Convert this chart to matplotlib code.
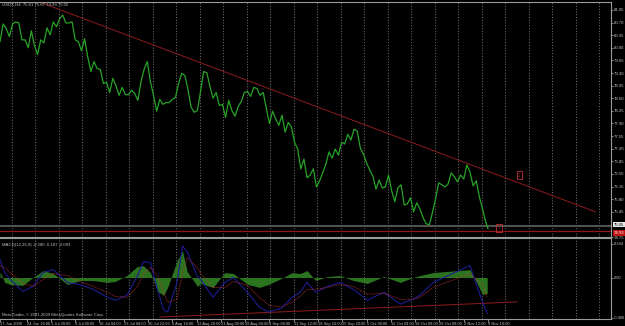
import matplotlib
matplotlib.use("Agg")
import matplotlib.pyplot as plt

plt.rcParams["font.family"] = ["Liberation Sans", "DejaVu Sans"]

# ---------------- data ----------------
# H4 bar index (every 4th bar) and price
price_bar = list(range(0, 624, 4)) + [623]
price_val = [80.17, 80.66, 80.53, 80.31, 80.66, 80.72, 80.69, 80.22, 80.22, 80.00,
             80.47, 80.06, 79.81, 80.22, 80.14, 80.55, 80.36, 80.72, 80.58, 80.80,
             80.91, 80.69, 80.69, 80.72, 80.22, 80.17, 79.92, 80.25, 79.75, 79.34,
             79.62, 79.42, 79.40, 79.01, 79.04, 78.76, 79.15, 78.95, 78.68, 78.90,
             78.70, 78.70, 78.82, 78.73, 78.54, 79.06, 79.40, 79.62, 79.06, 78.68,
             78.24, 78.57, 78.43, 78.48, 78.48, 78.57, 78.62, 79.01, 79.29, 79.23,
             78.84, 78.35, 78.21, 78.26, 78.79, 79.34, 79.31, 78.93, 78.60, 78.76,
             78.40, 78.43, 78.07, 78.54, 78.26, 78.10, 78.37, 78.51, 78.76, 78.79,
             78.65, 78.90, 78.87, 78.68, 78.76, 78.32, 77.90, 78.24, 78.02, 77.85,
             78.13, 77.66, 77.93, 77.80, 77.38, 77.19, 76.64, 76.91, 76.39, 76.47,
             76.64, 76.14, 76.31, 76.53, 76.77, 77.11, 76.94, 77.19, 77.02, 77.38,
             77.33, 77.60, 77.44, 77.74, 77.69, 77.22, 77.05, 76.80, 76.61, 76.44,
             76.08, 76.33, 76.11, 76.14, 76.47, 76.03, 75.73, 76.11, 76.20, 75.64,
             75.67, 75.84, 75.45, 75.70, 75.53, 75.29, 75.12, 75.09, 75.42, 75.81,
             76.25, 76.20, 76.14, 76.22, 76.53, 76.42, 76.28, 76.47, 76.36, 76.75,
             76.55, 76.17, 76.31, 75.86, 75.53, 75.17,
             74.98]

macd_bar = [0, 6, 13, 29, 42, 55, 68, 86, 102, 119, 137, 147, 162, 175, 183, 192, 201, 209, 214,
            226, 233, 239, 252, 256, 272, 287, 298, 316, 331, 343, 359, 373, 383, 392, 403, 418,
            434, 451, 469, 490, 511, 527, 536, 553, 600, 616, 622]
macd_val = [0.18, 0.05, -0.02, -0.14, -0.09, 0.05, 0.08, -0.05, -0.07, -0.12, -0.20, -0.23,
            -0.18, 0.01, 0.16, 0.15, -0.12, -0.33, -0.35, -0.05, 0.32, 0.26, 0.01, -0.02, -0.20,
            -0.05, 0.00, -0.15, -0.30, -0.35, -0.31, -0.20, -0.15, -0.05, -0.15, -0.09, -0.05,
            -0.12, -0.23, -0.15, -0.27, -0.22, -0.18, -0.05, 0.12, -0.25, -0.36]
signal_val = [0.12, 0.10, 0.05, -0.06, -0.09, -0.02, 0.04, 0.02, -0.04, -0.09, -0.15, -0.19,
              -0.20, -0.10, 0.04, 0.10, 0.02, -0.15, -0.25, -0.22, 0.05, 0.20, 0.10, 0.04, -0.10,
              -0.10, -0.04, -0.08, -0.20, -0.28, -0.30, -0.25, -0.19, -0.12, -0.12, -0.10, -0.07,
              -0.09, -0.17, -0.16, -0.22, -0.22, -0.20, -0.10, 0.04, -0.08, -0.20]
hist_val = [0.06, -0.05, -0.07, -0.08, 0.00, 0.07, 0.04, -0.07, -0.03, -0.03, -0.05, -0.04,
            0.02, 0.11, 0.12, 0.05, -0.14, -0.18, -0.10, 0.17, 0.27, 0.06, -0.09, -0.06, -0.10,
            0.05, 0.04, -0.07, -0.10, -0.07, -0.01, 0.05, 0.04, 0.07, -0.03, 0.01, 0.02, -0.03,
            -0.06, 0.01, -0.05, 0.00, 0.02, 0.05, 0.08, -0.17, -0.16]

trend_top = ([54, 760], [81.24, 75.45])
trend_macd = ([204, 660], [-0.40, -0.247])
bid_price = 75.05
hline_price = 74.93
box_points = ([663, 637], [76.47, 75.01])
box_texts = ["2", "1"]

price_ticks = [81.05, 80.70, 80.35, 80.00, 79.65, 79.30, 78.95, 78.60, 78.25, 77.90, 77.55,
               77.20, 76.85, 76.50, 76.15, 75.80, 75.45, 74.75]
macd_ticks = [0.344, 0.00, -0.406]
macd_tick_labels = ["0.344", "0.00", "-0.406"]

time_bars = [0, 34, 65, 96, 127, 158, 189, 220, 251, 282, 313, 344, 375, 406, 437, 468, 499,
             530, 561, 592, 623]
time_labels = ["17 Jun 2009", "24 Jun 16:00", "1 Jul 20:00", "9 Jul 00:00", "16 Jul 04:00",
               "23 Jul 08:00", "30 Jul 12:00", "6 Aug 16:00", "13 Aug 20:00", "21 Aug 00:00",
               "28 Aug 04:00", "4 Sep 08:00", "11 Sep 12:00", "18 Sep 16:00", "25 Sep 20:00",
               "5 Oct 00:00", "12 Oct 04:00", "19 Oct 08:00", "26 Oct 08:00", "2 Nov 12:00",
               "9 Nov 16:00"]
grid_bars = [15 + 30 * k for k in range(26)]

title_text = "USDX,H4  75.61 75.67 74.99 75.05"
macd_text = "MACD(12,26,9) -0.280 -0.187 -0.093"
copyright_text = "MetaTrader, \u00a9 2001-2009 MetaQuotes Software Corp."

# ---------------- style ----------------
BG = "black"
FG = "#c0c0c0"
GRID = "#9a9a9a"
GREEN = "#27a327"
DARKRED = "#8c1c1c"
BLUE = "#1c1c90"
RED = "#c03030"
HIST = "#2c7320"
FS = 3.1

W, H = 625, 326
fig = plt.figure(figsize=(W / 100, H / 100), dpi=100, facecolor=BG)
ax = fig.add_axes([0, (H - 237) / H, 611 / W, 235 / H], facecolor=BG)
ax2 = fig.add_axes([0, (H - 319) / H, 611 / W, 81 / H], facecolor=BG)

XMAX = 780
for a in (ax, ax2):
    a.set_xlim(0, XMAX)
    for s in a.spines.values():
        s.set_color(GRID)
        s.set_linewidth(0.8)
    a.spines["left"].set_visible(False)
    for g in grid_bars:
        a.axvline(g, color=GRID, lw=0.5, ls=(0, (1.5, 2.5)), zorder=0)

# main panel
YLO, YHI = 74.79, 81.27
ax.set_ylim(YLO, YHI)
ax.plot(price_bar, price_val, color=GREEN, lw=0.9, zorder=3)
ax.plot(trend_top[0], trend_top[1], color=DARKRED, lw=0.7, zorder=2)
ax.axhline(bid_price, color="#5a5a5a", lw=1.3, zorder=1)
ax.axhline(hline_price, color=DARKRED, lw=0.9, zorder=1)
for bx, by, bt in zip(box_points[0], box_points[1], box_texts):
    ax.text(bx, by, bt, color=DARKRED, fontsize=3.5, ha="center", va="center",
            bbox=dict(boxstyle="square,pad=0.3", fc="none", ec=RED, lw=0.6), zorder=4)
ax.yaxis.tick_right()
ax.set_yticks(price_ticks)
ax.set_yticklabels([f"{t:.2f}" for t in price_ticks])
ax.tick_params(axis="y", colors=FG, labelsize=FS, length=1.5, width=0.5, pad=0.4)
ax.set_xticks([])
ax.text(2, 81.20, title_text, color=FG, fontsize=FS, va="center", ha="left")

# price labels on the axis
ax.text(1.005, (bid_price - YLO) / (YHI - YLO) + 0.012, f"{bid_price:.2f}",
        transform=ax.transAxes, color="black", fontsize=FS, va="center", ha="left",
        bbox=dict(boxstyle="square,pad=0.15", fc="#e8e8e8", ec="none"), clip_on=False)
ax.text(1.005, (hline_price - YLO) / (YHI - YLO) - 0.004, f"{hline_price:.2f}",
        transform=ax.transAxes, color="white", fontsize=FS, va="center", ha="left",
        bbox=dict(boxstyle="square,pad=0.15", fc="#c01010", ec="none"), clip_on=False)

# MACD panel
ax2.set_ylim(-0.42, 0.40)
ax2.fill_between(macd_bar, 0, hist_val, color=HIST, lw=0, zorder=2)
ax2.plot(macd_bar, macd_val, color=BLUE, lw=0.8, zorder=3)
ax2.plot(macd_bar, signal_val, color=RED, lw=0.6, ls=(0, (1, 1)), zorder=3)
ax2.plot(trend_macd[0], trend_macd[1], color=DARKRED, lw=0.7, zorder=2)
ax2.yaxis.tick_right()
ax2.set_yticks(macd_ticks)
ax2.set_yticklabels(macd_tick_labels)
ax2.tick_params(axis="y", colors=FG, labelsize=2.9, length=1.5, width=0.5, pad=0.3)
ax2.set_xticks(time_bars)
ax2.set_xticklabels(time_labels, ha="left")
ax2.tick_params(axis="x", colors=FG, labelsize=2.9, length=2, width=0.5, pad=0.3)
ax2.text(2, 0.33, macd_text, color=FG, fontsize=FS, va="center", ha="left")
ax2.text(2, -0.38, copyright_text, color=FG, fontsize=FS, va="center", ha="left")

fig.savefig("out.png", dpi=100, facecolor=BG)
